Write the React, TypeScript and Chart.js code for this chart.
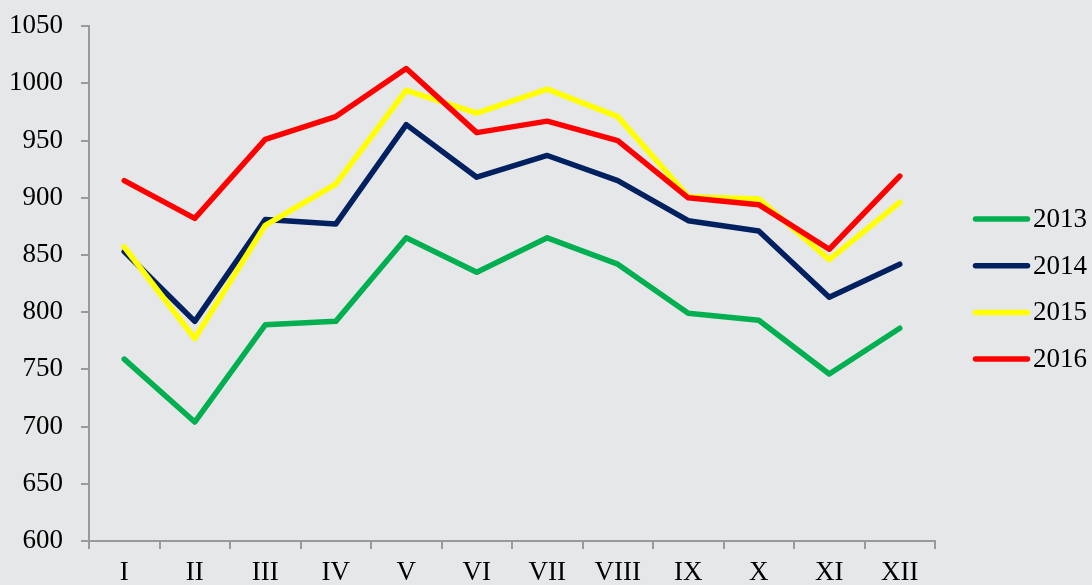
import React, { useEffect, useRef } from "react";
import { Chart, registerables } from "chart.js";

Chart.register(...registerables);

const months = ["I", "II", "III", "IV", "V", "VI", "VII", "VIII", "IX", "X", "XI", "XII"];
const years = ["2013", "2014", "2015", "2016"];
const values2013 = [759, 704, 789, 792, 865, 835, 865, 842, 799, 793, 746, 786];
const values2014 = [853, 792, 881, 877, 964, 918, 937, 915, 880, 871, 813, 842];
const values2015 = [857, 777, 876, 912, 994, 974, 995, 971, 901, 899, 846, 896];
const values2016 = [915, 882, 951, 971, 1013, 957, 967, 950, 900, 894, 855, 919];
const colors = ["#00b050", "#002060", "#ffff00", "#ff0000"];

const BG = "#e6e7e9";
const AXIS = "#9a9a9a";
const FONT = "'Liberation Serif', 'Times New Roman', serif";
const SHIFT = 8;

export default function App() {
  const ref = useRef<HTMLCanvasElement | null>(null);

  useEffect(() => {
    document.body.style.margin = "0";
    document.body.style.background = BG;
    const canvas = ref.current;
    if (!canvas) return;

    const bgPlugin = {
      id: "bg",
      beforeDraw(chart: any) {
        const ctx = chart.ctx;
        ctx.save();
        ctx.fillStyle = BG;
        ctx.fillRect(0, 0, chart.width, chart.height);
        ctx.restore();
      },
    };

    const legendPlugin = {
      id: "customLegend",
      afterDraw(chart: any) {
        const ctx = chart.ctx;
        const area = chart.chartArea;
        const x0 = area.right + 38;
        const len = 57;
        const startY = 219 + SHIFT;
        const step = 46.7;
        ctx.save();
        chart.data.datasets.forEach((ds: any, i: number) => {
          const y = startY + i * step;
          ctx.strokeStyle = ds.borderColor;
          ctx.lineWidth = 5.5;
          ctx.lineCap = "round";
          ctx.beginPath();
          ctx.moveTo(x0 + 2.5, y);
          ctx.lineTo(x0 + len - 2.5, y);
          ctx.stroke();
          ctx.fillStyle = "#000";
          ctx.font = `27px ${FONT}`;
          ctx.textBaseline = "middle";
          ctx.textAlign = "left";
          ctx.fillText(ds.label, x0 + len + 3, y + 1);
        });
        ctx.restore();
      },
    };

    const series = [values2013, values2014, values2015, values2016];
    const chart = new Chart(canvas, {
      type: "line",
      data: {
        labels: months,
        datasets: series.map((vals, i) => ({
          label: years[i],
          data: vals,
          borderColor: colors[i],
          backgroundColor: colors[i],
          borderWidth: 5.5,
          pointRadius: 0,
          pointHoverRadius: 0,
          tension: 0,
          borderJoinStyle: "round" as const,
          borderCapStyle: "round" as const,
          order: 4 - i,
        })),
      },
      options: {
        animation: false,
        responsive: false,
        maintainAspectRatio: false,
        layout: { padding: { left: -9, right: 157, top: 10, bottom: -12.4 } },
        plugins: {
          legend: { display: false },
          tooltip: { enabled: false },
        },
        scales: {
          x: {
            offset: true,
            grid: {
              offset: true,
              drawOnChartArea: false,
              drawTicks: true,
              tickLength: 8,
              color: AXIS,
              lineWidth: 2,
            },
            border: { color: AXIS, width: 2 },
            ticks: {
              color: "#000",
              font: { family: FONT, size: 27 },
              padding: 8,
              maxRotation: 0,
              autoSkip: false,
            },
          },
          y: {
            min: 600,
            max: 1050,
            grid: {
              drawOnChartArea: false,
              drawTicks: true,
              tickLength: 8,
              color: AXIS,
              lineWidth: 2,
            },
            border: { color: AXIS, width: 2 },
            ticks: {
              stepSize: 50,
              color: "#000",
              font: { family: FONT, size: 27 },
              padding: 18,
              callback: (v: any) => String(v),
            },
          },
        },
      },
      plugins: [bgPlugin, legendPlugin],
    });

    return () => chart.destroy();
  }, []);

  return (
    <div style={{ width: 1092, height: 585, background: BG, overflow: "hidden" }}>
      <canvas
        ref={ref}
        width={1092}
        height={585 + SHIFT}
        style={{ display: "block", width: 1092, height: 585 + SHIFT, marginTop: -SHIFT }}
      />
    </div>
  );
}
